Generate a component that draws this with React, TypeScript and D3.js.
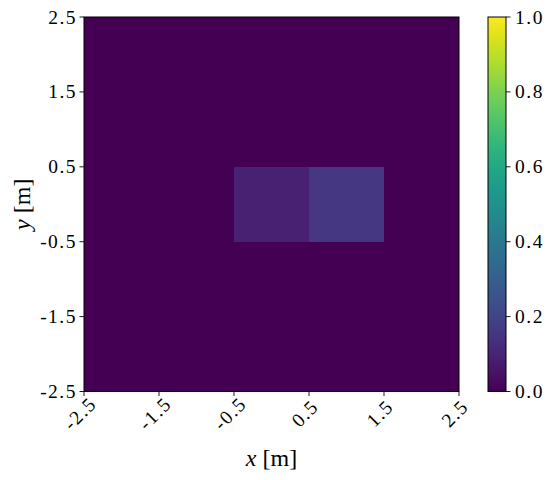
import React from "react";
import * as d3 from "d3";

const xCenters = [-2, -1, 0, 1, 2];
const yCenters = [-2, -1, 0, 1, 2];
// rows follow yCenters, columns follow xCenters
const values = [
  [0, 0, 0, 0, 0],
  [0, 0, 0, 0, 0],
  [0, 0, 0.09, 0.16, 0],
  [0, 0, 0, 0, 0],
  [0, 0, 0, 0, 0],
];
const axisTicks = [-2.5, -1.5, -0.5, 0.5, 1.5, 2.5];
const cbarTicks = [0, 0.2, 0.4, 0.6, 0.8, 1.0];

const W = 555, H = 480;
const left = 84, right = 459, top = 17, bottom = 391.5;
const cbL = 488, cbR = 506;
const FONT = '"Liberation Serif", "Times New Roman", serif';
const FS = 19.5;
const LS = 1.5;

export default function App() {
  const x = d3.scaleLinear().domain([-2.5, 2.5]).range([left, right]);
  const y = d3.scaleLinear().domain([-2.5, 2.5]).range([bottom, top]);
  const c = d3.scaleSequential(d3.interpolateViridis).domain([0, 1]);
  const cy = d3.scaleLinear().domain([0, 1]).range([bottom, top]);
  const stops = d3.range(0, 1.0001, 0.05);

  const cells: JSX.Element[] = [];
  yCenters.forEach((yc, i) => {
    xCenters.forEach((xc, j) => {
      const x0 = x(xc - 0.5), x1 = x(xc + 0.5);
      const y0 = y(yc + 0.5), y1 = y(yc - 0.5);
      cells.push(
        <rect key={`${i}-${j}`} x={x0} y={y0} width={x1 - x0} height={y1 - y0}
          fill={c(values[i][j])} shapeRendering="crispEdges" />
      );
    });
  });

  return (
    <svg width={W} height={H} style={{ position: "absolute", left: 0, top: 0, background: "#fff", fontFamily: FONT }}>
      <defs>
        <linearGradient id="vir" x1="0" y1="1" x2="0" y2="0">
          {stops.map((s) => (
            <stop key={s} offset={`${s * 100}%`} stopColor={c(s)} />
          ))}
        </linearGradient>
      </defs>
      {cells}
      <rect x={left} y={top} width={right - left} height={bottom - top} fill="none" stroke="#000" strokeWidth={1} />
      {axisTicks.map((t) => (
        <g key={`x${t}`}>
          <line x1={x(t)} x2={x(t)} y1={bottom} y2={bottom + 4.5} stroke="#000" strokeWidth={0.9} />
          <text transform={`translate(${x(t) - 4},${bottom + 22}) rotate(-45)`} textAnchor="middle"
            dominantBaseline="central" fontSize={FS} letterSpacing={LS}>{t.toFixed(1)}</text>
        </g>
      ))}
      {axisTicks.map((t) => (
        <g key={`y${t}`}>
          <line x1={left - 4.5} x2={left} y1={y(t)} y2={y(t)} stroke="#000" strokeWidth={0.9} />
          <text x={left - 7} y={y(t)} textAnchor="end" dominantBaseline="central" fontSize={FS} letterSpacing={LS}>{t.toFixed(1)}</text>
        </g>
      ))}
      <text x={(left + right) / 2} y={466} textAnchor="middle" fontSize={24}>
        <tspan fontStyle="italic">x</tspan> [m]
      </text>
      <text transform={`translate(30,${(top + bottom) / 2}) rotate(-90)`} textAnchor="middle" fontSize={24}>
        <tspan fontStyle="italic">y</tspan> [m]
      </text>
      <rect x={cbL} y={top} width={cbR - cbL} height={bottom - top} fill="url(#vir)" stroke="#000" strokeWidth={1} />
      {cbarTicks.map((t) => (
        <g key={`c${t}`}>
          <line x1={cbR} x2={cbR + 4.5} y1={cy(t)} y2={cy(t)} stroke="#000" strokeWidth={0.9} />
          <text x={cbR + 9} y={cy(t)} dominantBaseline="central" fontSize={FS} letterSpacing={LS}>{t.toFixed(1)}</text>
        </g>
      ))}
    </svg>
  );
}
